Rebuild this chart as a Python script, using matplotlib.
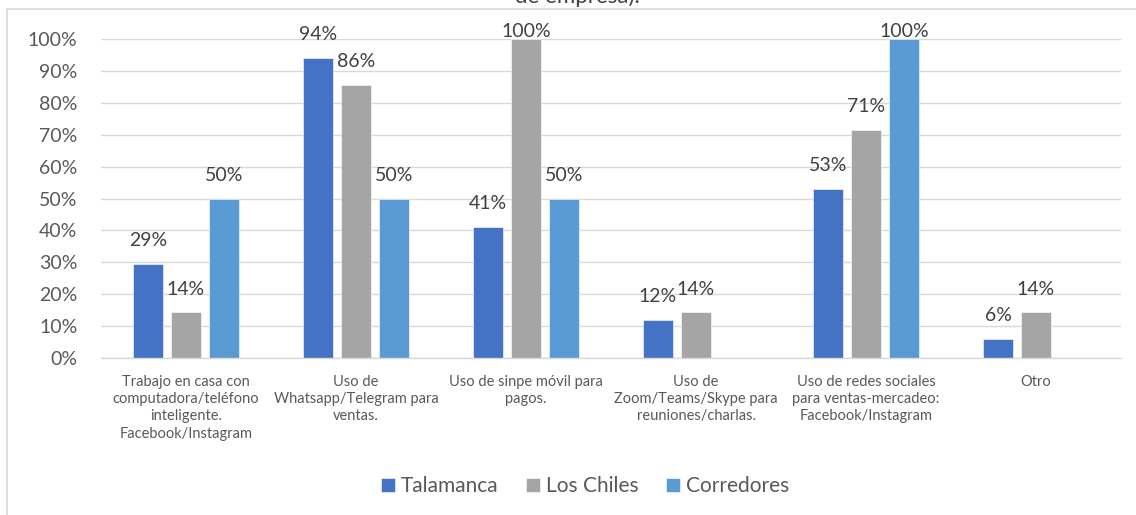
import numpy as np
import matplotlib
matplotlib.use("Agg")
import matplotlib.pyplot as plt
from matplotlib.patches import Rectangle

plt.rcParams['font.family'] = ['Lato', 'DejaVu Sans']

categories = [
    "Trabajo en casa con\ncomputadora/teléfono\ninteligente.\nFacebook/Instagram",
    "Uso de\nWhatsapp/Telegram para\nventas.",
    "Uso de sinpe móvil para\npagos.",
    "Uso de\nZoom/Teams/Skype para\nreuniones/charlas.",
    "Uso de redes sociales\npara ventas-mercadeo:\nFacebook/Instagram",
    "Otro",
]
series_names = ["Talamanca", "Los Chiles", "Corredores"]
talamanca = [29.4, 94.1, 41.2, 11.8, 52.9, 5.9]
los_chiles = [14.3, 85.7, 100.0, 14.3, 71.4, 14.3]
corredores = [50.0, 50.0, 50.0, 0.0, 100.0, 0.0]
colors = ["#4472C4", "#A5A5A5", "#5B9BD5"]
text_color = "#595959"
grid_color = "#D9D9D9"

W, H = 1136, 515
fig = plt.figure(figsize=(W / 100, H / 100), dpi=100)
ax = fig.add_axes([101 / W, 1 - 358 / H, 1020 / W, 319 / H])

x = np.arange(len(categories))
bar_w = 30 / 170
step = 38 / 170
label_gap = 5.6   # in data units, ~18px above bar top
label_max = 100.6  # labels stay inside the chart area, like Excel does
for i, (vals, name) in enumerate(zip([talamanca, los_chiles, corredores], series_names)):
    pos = x + (i - 1) * step
    ax.bar(pos, vals, width=bar_w, color=colors[i], label=name, zorder=3,
           edgecolor="white", linewidth=0.4)
    for xb, v in zip(pos, vals):
        if v > 0:
            ax.text(xb, min(v + label_gap, label_max), f"{round(v)}%", ha="center",
                    va="baseline", fontsize=14, color="#404040", clip_on=False)

ax.set_xlim(-0.5, len(categories) - 0.5)
ax.set_ylim(0, 100)
ax.set_yticks(np.arange(0, 101, 10))
ax.set_yticklabels([f"{t}%" for t in range(0, 101, 10)], fontsize=14, color=text_color)
ax.set_xticks(x)
ax.set_xticklabels(categories, fontsize=10.5, color=text_color, linespacing=1.3, va="top")
ax.tick_params(axis="y", length=0, pad=17)
ax.tick_params(axis="x", length=0, pad=12)
ax.grid(axis="y", color=grid_color, linewidth=1, zorder=0)
for s in ["top", "right", "left"]:
    ax.spines[s].set_visible(False)
ax.spines["bottom"].set_color(grid_color)
ax.spines["bottom"].set_linewidth(1)
ax.spines["bottom"].set_zorder(4)

fig.legend(loc="center", bbox_to_anchor=(585 / W, 1 - 486 / H), ncol=3, frameon=False,
           fontsize=15, handlelength=0.67, handleheight=0.67, handletextpad=0.3,
           columnspacing=1.3, labelcolor=text_color)

# chart frame (cut off at right and bottom like the source)
fig.patches.append(Rectangle((7 / W, -0.1), 2, 1 - 9 / H + 0.1, transform=fig.transFigure,
                             fill=False, edgecolor=grid_color, linewidth=1.2))

fig.text(577 / W, 1 - 3 / H, "de empresa).", ha="center", va="baseline",
         fontsize=16, color="#404040")

fig.savefig("out.png", dpi=100)
